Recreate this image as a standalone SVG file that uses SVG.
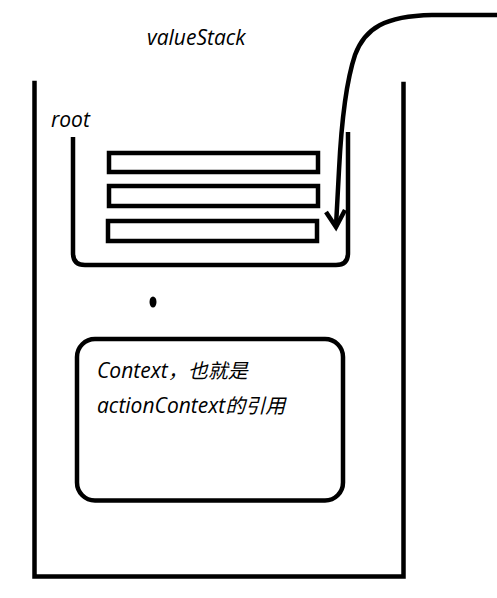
<svg xmlns="http://www.w3.org/2000/svg" width="497" height="598" viewBox="0 0 497 598">
<style>
.ln{fill:none;stroke:#000;stroke-width:4.5}
.t{font-family:"Open Sans","Noto Sans CJK SC",sans-serif;font-style:italic;font-size:21px;fill:#000}
.c{font-size:20px}
</style>
<rect width="497" height="598" fill="#fff"/>
<g id="valueStack">
<path class="ln" d="M34.5,83 V576.5 H403.5 V84" stroke-linecap="square"/>
<text class="t" x="147" y="45">valueStack</text>
</g>
<g id="root">
<path class="ln" d="M73,137 V253 Q73,265 85,265 H336 Q348,265 348,253 V132"/>
<text class="t" x="51" y="127">root</text>
<rect class="ln" x="109" y="153" width="209" height="19"/>
<rect class="ln" x="109" y="186" width="209" height="20"/>
<rect class="ln" x="108" y="221" width="209" height="20"/>
</g>
<g id="dot">
<ellipse cx="153" cy="302" rx="3.5" ry="5.5" fill="#000"/>
</g>
<g id="context">
<rect class="ln" x="77" y="339" width="266" height="161.5" rx="18"/>
<text class="t" x="97" y="378">Context<tspan class="c">，也就是</tspan></text>
<text class="t" x="97" y="413">actionContext<tspan class="c">的引用</tspan></text>
</g>
<g id="connectors">
<path class="ln" d="M497,15 H432 C385,16 365,28 355,55 C345,85 341,130 339,170 L336,226"/>
<path class="ln" d="M326,212 L336,227 L345,210"/>
</g>
</svg>
